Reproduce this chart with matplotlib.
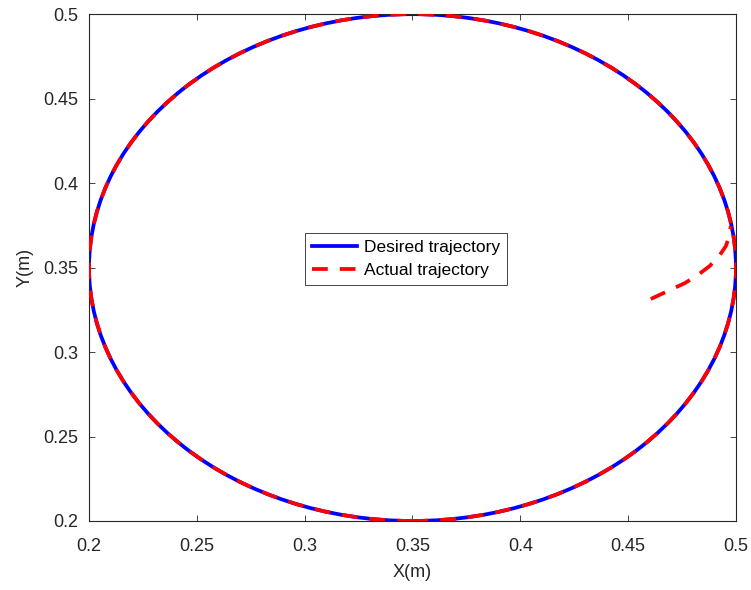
import matplotlib.pyplot as plt
from matplotlib.patches import Ellipse
from matplotlib.lines import Line2D

# desired circle
circle_center = (0.35, 0.35)
circle_radius = 0.15

# transient of the actual trajectory before it joins the circle
actual_x = [0.4605, 0.4684, 0.4763, 0.4823, 0.4878, 0.4925, 0.4953, 0.4969, 0.4976]
actual_y = [0.3314, 0.3361, 0.3408, 0.3456, 0.3509, 0.3574, 0.3627, 0.3686, 0.3746]

xticks = [0.2, 0.25, 0.3, 0.35, 0.4, 0.45, 0.5]
yticks = [0.2, 0.25, 0.3, 0.35, 0.4, 0.45, 0.5]
tick_labels = ['0.2', '0.25', '0.3', '0.35', '0.4', '0.45', '0.5']

plt.rcParams['font.family'] = ['Liberation Sans', 'DejaVu Sans']

fig = plt.figure(figsize=(7.51, 5.90), dpi=100)
ax = fig.add_axes([0.1185, 0.117, 0.8615, 0.859])

lw = 2.7
dash = (0, (4.2, 3.2))

desired = Ellipse(circle_center, 2 * circle_radius, 2 * circle_radius, fill=False,
                  edgecolor='#0000ff', linewidth=lw, zorder=2)
ax.add_patch(desired)
actual = Ellipse(circle_center, 2 * circle_radius, 2 * circle_radius, fill=False,
                 edgecolor='#ff0000', linewidth=lw, linestyle=dash, zorder=3)
ax.add_patch(actual)
ax.plot(actual_x, actual_y, color='#ff0000', lw=lw, linestyle=dash, zorder=3)

ax.set_xlim(0.2, 0.5)
ax.set_ylim(0.2, 0.5)
ax.set_xticks(xticks)
ax.set_xticklabels(tick_labels)
ax.set_yticks(yticks)
ax.set_yticklabels(tick_labels)
ax.tick_params(direction='in', length=4.5, width=0.6, labelsize=13,
               top=True, right=True, colors='#262626')
ax.tick_params(axis='x', pad=12)
ax.tick_params(axis='y', pad=8)
for s in ax.spines.values():
    s.set_linewidth(0.8)
    s.set_color('#262626')

ax.set_xlabel('X(m)', fontsize=13, color='#262626', labelpad=7)
ax.set_ylabel('Y(m)', fontsize=13, color='#262626', labelpad=7)

handles = [Line2D([], [], color='#0000ff', lw=lw),
           Line2D([], [], color='#ff0000', lw=lw, linestyle=(0, (4.2, 3.2)))]
leg = ax.legend(handles, ['Desired trajectory', 'Actual trajectory'],
                loc='center', bbox_to_anchor=(0.49, 0.517), fontsize=12.5,
                fancybox=False, framealpha=1, edgecolor='#262626',
                handlelength=2.6, borderpad=0.4, labelspacing=0.5,
                handletextpad=0.35, borderaxespad=0)
leg.get_frame().set_linewidth(0.6)

fig.savefig('out.png', dpi=100)
